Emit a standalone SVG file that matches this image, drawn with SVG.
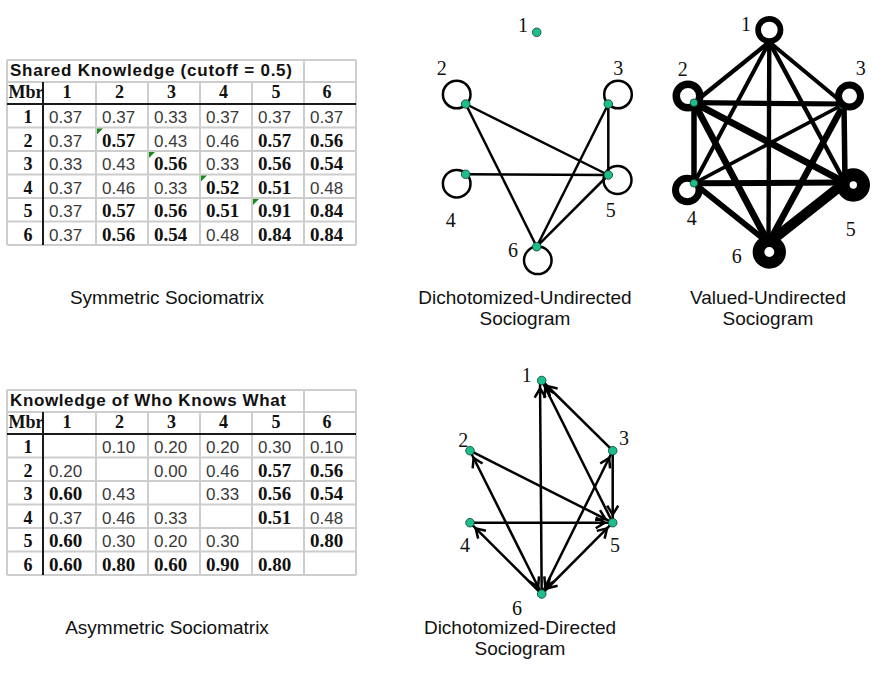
<svg xmlns="http://www.w3.org/2000/svg" width="873" height="675" viewBox="0 0 873 675">
<style>
.grid{stroke:#cdcdcd;stroke-width:2;fill:none}
.dark{stroke:#1a1a1a;stroke-width:2}
.t{font-family:"Liberation Sans",Arial,sans-serif;font-weight:bold;font-size:17px;fill:#111}
.h{font-family:"Liberation Serif","Times New Roman",serif;font-weight:bold;font-size:18px;text-anchor:middle;fill:#111}
.v{font-family:"Liberation Sans",Arial,sans-serif;font-size:17px;fill:#3a3a3a}
.b{font-family:"Liberation Serif","Times New Roman",serif;font-weight:bold;font-size:19px;fill:#111}
.cap{font-family:"Liberation Sans",Arial,sans-serif;font-size:19px;text-anchor:middle;fill:#111}
.lbl{font-family:"Liberation Serif","Times New Roman",serif;font-size:20px;text-anchor:middle;fill:#111}
.e{stroke:#000;stroke-width:2.5;fill:none}
.ve{stroke:#000;fill:none}
.loop{stroke:#000;stroke-width:2.5;fill:none}
.vloop{stroke:#000;fill:#fff}
.dot{fill:#1dbe8e;stroke:#0b3b2c;stroke-width:0.8}
.tri{fill:#1a8a1a}
.arr{marker-end:url(#ah)}
.both{marker-start:url(#ah);marker-end:url(#ah)}
</style>
<defs>
<marker id="ah" markerUnits="userSpaceOnUse" viewBox="0 -10 30 20" markerWidth="30" markerHeight="20" refX="17" refY="0" orient="auto-start-reverse" overflow="visible">
<path d="M0,-5.5 L9,0 L0,5.5" fill="none" stroke="#000" stroke-width="2.5"/>
</marker>
</defs>

<!-- Table 1 -->
<g id="table-shared">
<g class="grid">
<line x1="7" y1="60" x2="356" y2="60"/><line x1="7" y1="82" x2="356" y2="82"/>
<line x1="7" y1="127.5" x2="356" y2="127.5"/><line x1="7" y1="151" x2="356" y2="151"/>
<line x1="7" y1="174.5" x2="356" y2="174.5"/><line x1="7" y1="198" x2="356" y2="198"/>
<line x1="7" y1="221.5" x2="356" y2="221.5"/><line x1="7" y1="245" x2="356" y2="245"/>
<line x1="7" y1="60" x2="7" y2="245"/><line x1="96" y1="82" x2="96" y2="245"/>
<line x1="148" y1="82" x2="148" y2="245"/><line x1="200" y1="82" x2="200" y2="245"/>
<line x1="252" y1="82" x2="252" y2="245"/><line x1="304" y1="60" x2="304" y2="245"/>
<line x1="356" y1="60" x2="356" y2="245"/>
</g>
<line class="dark" x1="7" y1="104" x2="356" y2="104"/>
<line class="dark" x1="43" y1="82" x2="43" y2="245"/>
<polygon class="tri" points="97,128.5 103,128.5 97,134.5"/>
<polygon class="tri" points="149,152 155,152 149,158"/>
<polygon class="tri" points="201,175.5 207,175.5 201,181.5"/>
<polygon class="tri" points="253,199 259,199 253,205"/>
<text class="t" x="10" y="76" textLength="282">Shared Knowledge (cutoff = 0.5)</text>
<text class="h" x="26" y="98">Mbr</text><text class="h" x="67" y="98">1</text><text class="h" x="119.5" y="98">2</text><text class="h" x="171.5" y="98">3</text><text class="h" x="223.5" y="98">4</text><text class="h" x="276" y="98">5</text><text class="h" x="327" y="98">6</text>
<text class="h" x="28" y="123">1</text><text class="h" x="28" y="146.5">2</text><text class="h" x="28" y="170">3</text><text class="h" x="28" y="193.5">4</text><text class="h" x="28" y="217">5</text><text class="h" x="28" y="240.5">6</text>
<text class="v" x="49" y="123">0.37</text><text class="v" x="102" y="123">0.37</text><text class="v" x="154" y="123">0.33</text><text class="v" x="206" y="123">0.37</text><text class="v" x="258" y="123">0.37</text><text class="v" x="310" y="123">0.37</text>
<text class="v" x="49" y="146.5">0.37</text><text class="b" x="102" y="146.5">0.57</text><text class="v" x="154" y="146.5">0.43</text><text class="v" x="206" y="146.5">0.46</text><text class="b" x="258" y="146.5">0.57</text><text class="b" x="310" y="146.5">0.56</text>
<text class="v" x="49" y="170">0.33</text><text class="v" x="102" y="170">0.43</text><text class="b" x="154" y="170">0.56</text><text class="v" x="206" y="170">0.33</text><text class="b" x="258" y="170">0.56</text><text class="b" x="310" y="170">0.54</text>
<text class="v" x="49" y="193.5">0.37</text><text class="v" x="102" y="193.5">0.46</text><text class="v" x="154" y="193.5">0.33</text><text class="b" x="206" y="193.5">0.52</text><text class="b" x="258" y="193.5">0.51</text><text class="v" x="310" y="193.5">0.48</text>
<text class="v" x="49" y="217">0.37</text><text class="b" x="102" y="217">0.57</text><text class="b" x="154" y="217">0.56</text><text class="b" x="206" y="217">0.51</text><text class="b" x="258" y="217">0.91</text><text class="b" x="310" y="217">0.84</text>
<text class="v" x="49" y="240.5">0.37</text><text class="b" x="102" y="240.5">0.56</text><text class="b" x="154" y="240.5">0.54</text><text class="v" x="206" y="240.5">0.48</text><text class="b" x="258" y="240.5">0.84</text><text class="b" x="310" y="240.5">0.84</text>
</g>

<!-- Table 2 -->
<g id="table-whoknows">
<g class="grid">
<line x1="7" y1="390" x2="356" y2="390"/><line x1="7" y1="412" x2="356" y2="412"/>
<line x1="7" y1="457.5" x2="356" y2="457.5"/><line x1="7" y1="481" x2="356" y2="481"/>
<line x1="7" y1="504.5" x2="356" y2="504.5"/><line x1="7" y1="528" x2="356" y2="528"/>
<line x1="7" y1="551.5" x2="356" y2="551.5"/><line x1="7" y1="575" x2="356" y2="575"/>
<line x1="7" y1="390" x2="7" y2="575"/><line x1="96" y1="412" x2="96" y2="575"/>
<line x1="148" y1="412" x2="148" y2="575"/><line x1="200" y1="412" x2="200" y2="575"/>
<line x1="252" y1="412" x2="252" y2="575"/><line x1="304" y1="390" x2="304" y2="575"/>
<line x1="356" y1="390" x2="356" y2="575"/>
</g>
<line class="dark" x1="7" y1="434" x2="356" y2="434"/>
<line class="dark" x1="43" y1="412" x2="43" y2="575"/>
<text class="t" x="10" y="406" textLength="276">Knowledge of Who Knows What</text>
<text class="h" x="26" y="428">Mbr</text><text class="h" x="67" y="428">1</text><text class="h" x="119.5" y="428">2</text><text class="h" x="171.5" y="428">3</text><text class="h" x="223.5" y="428">4</text><text class="h" x="276" y="428">5</text><text class="h" x="327" y="428">6</text>
<text class="h" x="28" y="453">1</text><text class="h" x="28" y="476.5">2</text><text class="h" x="28" y="500">3</text><text class="h" x="28" y="523.5">4</text><text class="h" x="28" y="547">5</text><text class="h" x="28" y="570.5">6</text>
<text class="v" x="102" y="453">0.10</text><text class="v" x="154" y="453">0.20</text><text class="v" x="206" y="453">0.20</text><text class="v" x="258" y="453">0.30</text><text class="v" x="310" y="453">0.10</text>
<text class="v" x="49" y="476.5">0.20</text><text class="v" x="154" y="476.5">0.00</text><text class="v" x="206" y="476.5">0.46</text><text class="b" x="258" y="476.5">0.57</text><text class="b" x="310" y="476.5">0.56</text>
<text class="b" x="49" y="500">0.60</text><text class="v" x="102" y="500">0.43</text><text class="v" x="206" y="500">0.33</text><text class="b" x="258" y="500">0.56</text><text class="b" x="310" y="500">0.54</text>
<text class="v" x="49" y="523.5">0.37</text><text class="v" x="102" y="523.5">0.46</text><text class="v" x="154" y="523.5">0.33</text><text class="b" x="258" y="523.5">0.51</text><text class="v" x="310" y="523.5">0.48</text>
<text class="b" x="49" y="547">0.60</text><text class="v" x="102" y="547">0.30</text><text class="v" x="154" y="547">0.20</text><text class="v" x="206" y="547">0.30</text><text class="b" x="310" y="547">0.80</text>
<text class="b" x="49" y="570.5">0.60</text><text class="b" x="102" y="570.5">0.80</text><text class="b" x="154" y="570.5">0.60</text><text class="b" x="206" y="570.5">0.90</text><text class="b" x="258" y="570.5">0.80</text>
</g>

<!-- Sociogram 1: Dichotomized-Undirected -->
<g id="du-connectors">
<circle class="loop" cx="456.7" cy="94.5" r="13.8"/>
<circle class="loop" cx="618" cy="94.5" r="13.8"/>
<circle class="loop" cx="456.7" cy="183.7" r="13.8"/>
<circle class="loop" cx="617.5" cy="180" r="14"/>
<circle class="loop" cx="537.8" cy="260.3" r="13.8"/>
<line class="e" x1="465.7" y1="104" x2="608.3" y2="175"/>
<line class="e" x1="465.7" y1="104" x2="536.7" y2="246.7"/>
<line class="e" x1="465.7" y1="174.3" x2="608.3" y2="175"/>
<line class="e" x1="608.3" y1="104" x2="608.3" y2="175"/>
<line class="e" x1="608.3" y1="104" x2="536.7" y2="246.7"/>
<line class="e" x1="608.3" y1="175" x2="536.7" y2="246.7"/>
</g>
<g id="du-n1"><circle class="dot" cx="536.7" cy="32.3" r="4.3"/><text class="lbl" x="523" y="32">1</text></g>
<g id="du-n2"><circle class="dot" cx="465.7" cy="104" r="4.3"/><text class="lbl" x="441.7" y="75">2</text></g>
<g id="du-n3"><circle class="dot" cx="608.3" cy="104" r="4.3"/><text class="lbl" x="618.3" y="75">3</text></g>
<g id="du-n4"><circle class="dot" cx="465.7" cy="174.3" r="4.3"/><text class="lbl" x="450.7" y="227">4</text></g>
<g id="du-n5"><circle class="dot" cx="608.3" cy="175" r="4.3"/><text class="lbl" x="610.7" y="217">5</text></g>
<g id="du-n6"><circle class="dot" cx="536.7" cy="246.7" r="4.3"/><text class="lbl" x="513" y="257">6</text></g>

<!-- Sociogram 2: Valued-Undirected -->
<g id="vu-connectors">
<line class="ve" stroke-width="4.4" x1="769.3" y1="42" x2="694" y2="102.7"/>
<line class="ve" stroke-width="4" x1="769.3" y1="42" x2="844" y2="104"/>
<line class="ve" stroke-width="4" x1="769.3" y1="42" x2="694" y2="183.3"/>
<line class="ve" stroke-width="4.4" x1="769.3" y1="42" x2="845" y2="182.5"/>
<line class="ve" stroke-width="4.4" x1="769.3" y1="42" x2="768.5" y2="243"/>
<line class="ve" stroke-width="5.2" x1="694" y1="102.7" x2="844" y2="104"/>
<line class="ve" stroke-width="5.5" x1="694" y1="102.7" x2="694" y2="183.3"/>
<line class="ve" stroke-width="6.8" x1="694" y1="102.7" x2="845" y2="182.5"/>
<line class="ve" stroke-width="6.7" x1="694" y1="102.7" x2="768.5" y2="243"/>
<line class="ve" stroke-width="3.6" x1="844" y1="104" x2="694" y2="183.3"/>
<line class="ve" stroke-width="5.5" x1="844" y1="104" x2="845" y2="182.5"/>
<line class="ve" stroke-width="6.5" x1="844" y1="104" x2="768.5" y2="243"/>
<line class="ve" stroke-width="6.1" x1="694" y1="183.3" x2="845" y2="182.5"/>
<line class="ve" stroke-width="5.8" x1="694" y1="183.3" x2="768.5" y2="243"/>
<line class="ve" stroke-width="10" x1="845" y1="182.5" x2="768.5" y2="243"/>
</g>
<g id="vu-n1"><circle class="vloop" cx="769.3" cy="30" r="11.2" stroke-width="5.7"/><text class="lbl" x="746" y="31">1</text></g>
<g id="vu-n3"><circle class="dot" cx="843" cy="105" r="4"/><circle class="vloop" cx="849.5" cy="96" r="11" stroke-width="7"/><text class="lbl" x="860.7" y="75">3</text></g>
<g id="vu-n5"><circle class="vloop" cx="853.3" cy="185" r="10.2" stroke-width="13"/><text class="lbl" x="850.7" y="236">5</text></g>
<g id="vu-n6"><circle class="vloop" cx="769.3" cy="252" r="10.8" stroke-width="11.7"/><text class="lbl" x="736.7" y="263">6</text></g>
<g id="vu-n2"><circle class="vloop" cx="688" cy="96" r="11.75" stroke-width="7.5"/><circle class="dot" cx="694" cy="102.7" r="3.8"/><text class="lbl" x="682.7" y="76">2</text></g>
<g id="vu-n4"><circle class="vloop" cx="687.3" cy="190" r="11.8" stroke-width="7"/><circle class="dot" cx="694" cy="183.3" r="3.8"/><text class="lbl" x="691.7" y="225">4</text></g>

<!-- Sociogram 3: Dichotomized-Directed -->
<g id="dd-connectors">
<line class="e arr" x1="612.7" y1="450.7" x2="541.7" y2="380.5"/>
<line class="e arr" x1="612.7" y1="522.7" x2="541.7" y2="380.5"/>
<line class="e arr" x1="541.7" y1="594" x2="540" y2="380.5"/>
<line class="e arr" x1="470" y1="450.7" x2="612.7" y2="522.7"/>
<line class="e both" x1="470" y1="450.7" x2="541.7" y2="594"/>
<line class="e arr" x1="612.7" y1="450.7" x2="612.7" y2="522.7"/>
<line class="e both" x1="612.7" y1="450.7" x2="541.7" y2="594"/>
<line class="e arr" x1="470" y1="522.7" x2="612.7" y2="522.7"/>
<line class="e arr" x1="541.7" y1="594" x2="470" y2="522.7"/>
<line class="e both" x1="612.7" y1="522.7" x2="541.7" y2="594"/>
</g>
<g id="dd-n1"><circle class="dot" cx="541.7" cy="380.5" r="4.3"/><text class="lbl" x="526.7" y="382">1</text></g>
<g id="dd-n2"><circle class="dot" cx="470" cy="450.7" r="4.3"/><text class="lbl" x="463.3" y="447">2</text></g>
<g id="dd-n3"><circle class="dot" cx="612.7" cy="450.7" r="4.3"/><text class="lbl" x="624" y="445">3</text></g>
<g id="dd-n4"><circle class="dot" cx="470" cy="522.7" r="4.3"/><text class="lbl" x="465" y="552">4</text></g>
<g id="dd-n5"><circle class="dot" cx="612.7" cy="522.7" r="4.3"/><text class="lbl" x="615" y="552">5</text></g>
<g id="dd-n6"><circle class="dot" cx="541.7" cy="594" r="4.3"/><text class="lbl" x="517" y="615">6</text></g>

<!-- Captions -->
<g id="captions">
<text class="cap" x="167" y="304">Symmetric Sociomatrix</text>
<text class="cap" x="525" y="304">Dichotomized-Undirected</text>
<text class="cap" x="525" y="325">Sociogram</text>
<text class="cap" x="768" y="304">Valued-Undirected</text>
<text class="cap" x="768" y="325">Sociogram</text>
<text class="cap" x="167" y="634">Asymmetric Sociomatrix</text>
<text class="cap" x="520" y="634">Dichotomized-Directed</text>
<text class="cap" x="520" y="655">Sociogram</text>
</g>
</svg>
